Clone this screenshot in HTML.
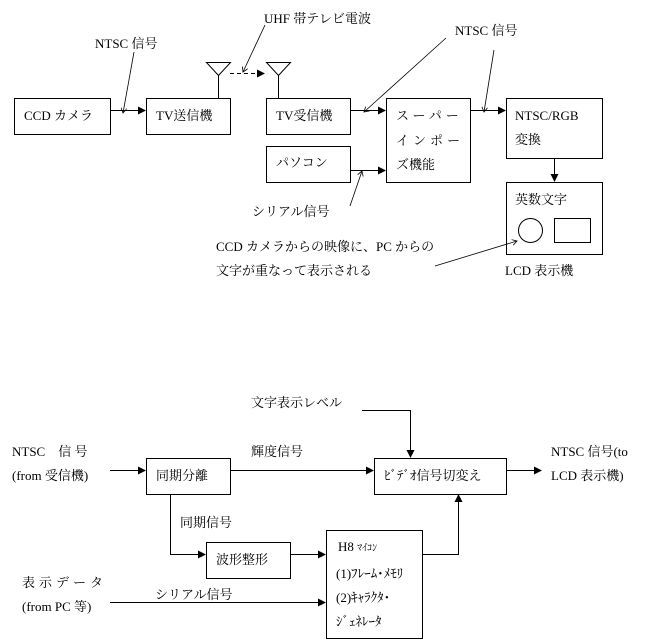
<!DOCTYPE html>
<html><head><meta charset="utf-8"><style>
html,body{margin:0;padding:0;background:#fff}
svg{display:block}
text{font-family:"Liberation Serif","Noto Serif CJK SC","Noto Sans CJK JP",serif;font-size:13px;fill:#000}
</style></head><body>
<svg width="652" height="641" viewBox="0 0 652 641" xmlns="http://www.w3.org/2000/svg">
<defs>
<marker id="a" markerWidth="8" markerHeight="8" refX="7" refY="4" orient="auto" markerUnits="userSpaceOnUse">
<path d="M0,0 L8,4 L0,8 Z" fill="#000"/></marker>
<marker id="s" markerWidth="6" markerHeight="6" refX="5" refY="3" orient="auto" markerUnits="userSpaceOnUse">
<path d="M0,0 L5,3 L0,6" fill="none" stroke="#000" stroke-width="0.8"/></marker>
</defs>
<g fill="none" stroke="#000" stroke-width="1">
<!-- top boxes -->
<rect x="14.5" y="98.5" width="96" height="36"/>
<rect x="146.5" y="98.5" width="84" height="36"/>
<rect x="266.5" y="98.5" width="84" height="36"/>
<rect x="266.5" y="146.5" width="84" height="36"/>
<rect x="386.5" y="98.5" width="84" height="84"/>
<rect x="506.5" y="98.5" width="96" height="60"/>
<rect x="506.5" y="182.5" width="96" height="72"/>
<circle cx="530.5" cy="230.5" r="12"/>
<rect x="554.5" y="218.5" width="36" height="24"/>
<!-- antennas -->
<path d="M206.5,62.5 L230.5,62.5 L218.5,75.5 Z M218.5,75.5 V98.5"/>
<path d="M266.5,62.5 L290.5,62.5 L278.5,75.5 Z M278.5,75.5 V98.5"/>
<line x1="230" y1="73.5" x2="264" y2="73.5" stroke-dasharray="4,3" marker-end="url(#a)"/>
<!-- arrows top -->
<line x1="110" y1="110.5" x2="145" y2="110.5" marker-end="url(#a)"/>
<line x1="350" y1="110.5" x2="385" y2="110.5" marker-end="url(#a)"/>
<line x1="350" y1="170.5" x2="385" y2="170.5" marker-end="url(#a)"/>
<line x1="470" y1="110.5" x2="505" y2="110.5" marker-end="url(#a)"/>
<line x1="554.5" y1="158" x2="554.5" y2="181" marker-end="url(#a)"/>
<!-- pointers -->
<line x1="134" y1="52" x2="123" y2="113" marker-end="url(#s)" stroke-width="0.8"/>
<line x1="265" y1="25" x2="243" y2="72" marker-end="url(#s)" stroke-width="0.8"/>
<line x1="446" y1="38" x2="364" y2="112" marker-end="url(#s)" stroke-width="0.8"/>
<line x1="494" y1="50" x2="484" y2="112" marker-end="url(#s)" stroke-width="0.8"/>
<line x1="350" y1="206" x2="362" y2="171" marker-end="url(#s)" stroke-width="0.8"/>
<line x1="435" y1="266" x2="517" y2="241" marker-end="url(#s)" stroke-width="0.8"/>
<!-- bottom boxes -->
<rect x="146.5" y="458.5" width="84" height="36"/>
<rect x="374.5" y="458.5" width="132" height="36"/>
<rect x="206.5" y="542.5" width="84" height="36"/>
<rect x="326.5" y="530.5" width="96" height="108"/>
<line x1="110" y1="470.5" x2="145" y2="470.5" marker-end="url(#a)"/>
<line x1="230" y1="470.5" x2="373" y2="470.5" marker-end="url(#a)"/>
<line x1="506" y1="470.5" x2="541" y2="470.5" marker-end="url(#a)"/>
<path d="M362,410.5 H410.5 V457" marker-end="url(#a)"/>
<path d="M422,554.5 H458.5 V495" marker-end="url(#a)"/>
<path d="M170.5,494 V554.5 H205" marker-end="url(#a)"/>
<line x1="290" y1="554.5" x2="325" y2="554.5" marker-end="url(#a)"/>
<line x1="110" y1="602.5" x2="325" y2="602.5" marker-end="url(#a)"/>
</g>
<!-- top text -->
<text x="24" y="120">CCD カメラ</text>
<text x="156" y="120">TV送信機</text>
<text x="276" y="120">TV受信機</text>
<text x="276" y="167">パソコン</text>
<text x="396" y="120" letter-spacing="4">スーパー</text>
<text x="396" y="145" letter-spacing="4">インポー</text>
<text x="396" y="169">ズ機能</text>
<text x="515" y="120">NTSC/RGB</text>
<text x="515" y="144">変換</text>
<text x="515" y="204">英数文字</text>
<text x="505" y="275">LCD 表示機</text>
<text x="95" y="48">NTSC 信号</text>
<text x="264" y="23">UHF 帯テレビ電波</text>
<text x="455" y="35">NTSC 信号</text>
<text x="252" y="216">シリアル信号</text>
<text x="216" y="251">CCD カメラからの映像に、PC からの</text>
<text x="216" y="275">文字が重なって表示される</text>
<!-- bottom text -->
<text x="251" y="407">文字表示レベル</text>
<text x="12" y="456">NTSC　信 号</text>
<text x="12" y="480">(from 受信機)</text>
<text x="251" y="456">輝度信号</text>
<text x="551" y="456">NTSC 信号(to</text>
<text x="551" y="480">LCD 表示機)</text>
<text x="156" y="480">同期分離</text>
<text x="384" y="480" font-size="12">ﾋﾞﾃﾞｵ信号切変え</text>
<text x="180" y="527">同期信号</text>
<text x="216" y="564">波形整形</text>
<text x="22" y="587" letter-spacing="4">表示データ</text>
<text x="22" y="611">(from PC 等)</text>
<text x="155" y="599">シリアル信号</text>
<text x="338" y="551">H8 <tspan font-size="10">ﾏｲｺﾝ</tspan></text>
<text x="336" y="578" font-size="11">(1)ﾌﾚｰﾑ･ﾒﾓﾘ</text>
<text x="336" y="602" font-size="11">(2)ｷｬﾗｸﾀ･</text>
<text x="336" y="626" font-size="11">ｼﾞｪﾈﾚｰﾀ</text>
</svg>
</body></html>
